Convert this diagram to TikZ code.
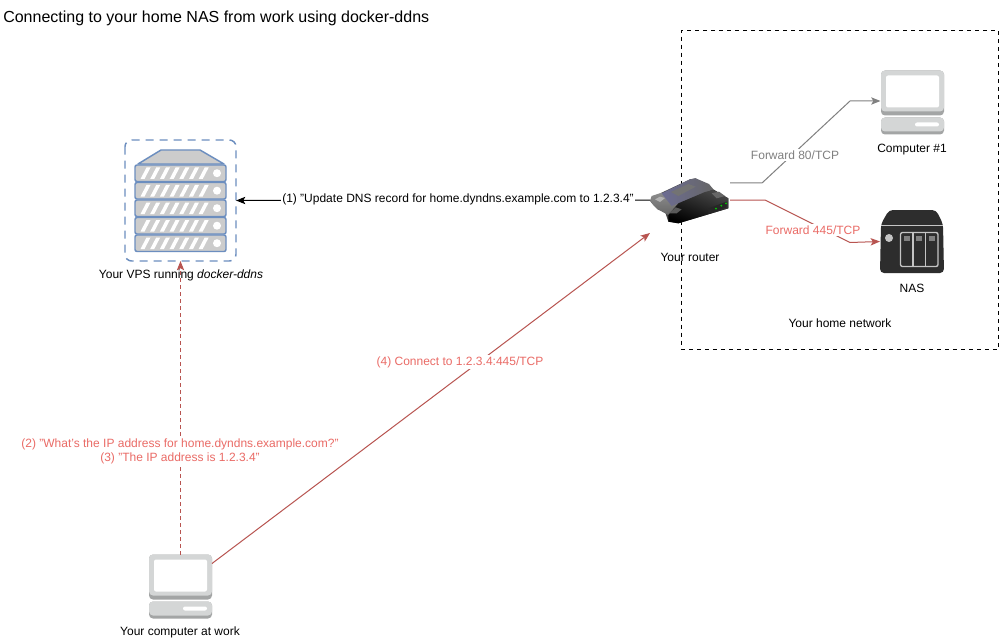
\documentclass[tikz,border=0pt]{standalone}
\usepackage{fontspec}
\setmainfont{Liberation Sans}
\usetikzlibrary{arrows.meta,calc}
\definecolor{dred}{HTML}{B85450}
\definecolor{lred}{HTML}{EA6B66}
\definecolor{dblue}{HTML}{6C8EBF}
\definecolor{fgrey}{HTML}{CCCCCC}
\definecolor{cgrey}{HTML}{D4D6D6}
\definecolor{cdark}{HTML}{A3A5A5}
\definecolor{lgrey}{HTML}{808080}
\definecolor{nasblack}{HTML}{2D2D2D}
\definecolor{naslight}{HTML}{C4C4C4}
\tikzset{
  x=0.75pt,y=-0.75pt,
  lab/.style={font=\fontsize{9}{10.5}\selectfont,inner sep=1pt,align=center},
  labw/.style={lab,fill=white},
  slot/.style={minimum width=#1*0.75pt,draw=none,inner sep=0pt,outer sep=0pt},
  tip/.style={-{Stealth[length=7pt,width=5.5pt,inset=1.6pt]}},
  conn/.style={tip,line width=0.75pt},
}
\newcommand{\computericon}[2]{%
  \begin{scope}[shift={(#1,#2)}]
    \fill[cdark,rounded corners=3pt] (0,0) rectangle (63,45);
    \fill[cgrey,rounded corners=3pt] (0,0) rectangle (63,41);
    \fill[white,rounded corners=1.5pt] (5,5) rectangle (58,37);
    \fill[cdark,rounded corners=3pt] (0,47) rectangle (63,64);
    \fill[cgrey,rounded corners=3pt] (0,47) rectangle (63,61);
    \fill[white,rounded corners=1.5pt] (34,52) rectangle (58,56);
  \end{scope}}
\begin{document}
\begin{tikzpicture}
\useasboundingbox (0,0) rectangle (999,638);
\fill[white] (0,0) rectangle (999,638);

% title
\node[anchor=west,inner sep=0pt,font=\fontsize{12}{14}\selectfont] (title) at (3,18.5) {Connecting to your home NAS from work using docker-ddns};

% home network box
\node[draw,dashed,line width=0.6pt,minimum width=238pt,minimum height=239.25pt,inner sep=0pt,anchor=north west] (home) at (680.5,30) {};

% anchor nodes of the icons
\node[slot=111,minimum height=90.75pt] (vps) at (180.5,200.5) {};
\node[slot=80,minimum height=49.5pt] (router) at (690,200) {};
\node[slot=63,minimum height=48pt] (comp) at (912,102.5) {};
\node[slot=64,minimum height=47.25pt] (nas) at (912,241.5) {};
\node[slot=63,minimum height=48pt] (work) at (180.5,586.5) {};

% labels beneath icons
\node[lab] (lvps) at (181,275.5) {Your VPS running \textit{docker-ddns}};
\node[lab] (lrouter) at (690,257) {Your router};
\node[lab] (lcomp) at (912,149.5) {Computer \#1};
\node[lab] (lnas) at (912,288) {NAS};
\node[lab] (lwork) at (180,632) {Your computer at work};
\node[lab] (lhome) at (840,323) {Your home network};

% VPS icon
\draw[dblue,line width=1.1pt,dash pattern=on 6pt off 4.5pt,rounded corners=5pt] (vps.north west) rectangle (vps.south east);
\filldraw[fill=fgrey,draw=dblue,line width=1.1pt,line join=round] (138,164) -- (161,150) -- (200,150) -- (224,164) -- cycle;
\foreach \yy in {165,182.5,200,217.5,235}{
  \begin{scope}[shift={(135,\yy)}]
    \filldraw[fill=fgrey,draw=dblue,line width=1.1pt,rounded corners=1.5pt] (0,0) rectangle (91,16.5);
    \foreach \xx in {0,...,6}{
      \fill[white] ({5.5+\xx*9.7},14) -- ({9.5+\xx*9.7},14) -- ({15.5+\xx*9.7},2.5) -- ({11.5+\xx*9.7},2.5) -- cycle;
    }
    \fill[white] (82,8.2) circle (3pt);
  \end{scope}
}

% computer icons
\computericon{149}{554.5}
\computericon{881}{70.5}

% NAS icon
\fill[nasblack,rounded corners=3pt] (881,224) -- (889,210) -- (936,210) -- (943,224) -- (944,273) -- (880,273) -- cycle;
\draw[naslight,line width=0.8pt] (881,225.5) -- (943,225.5);
\fill[naslight] (889,238) circle (3pt);
\draw[naslight,line width=1pt,rounded corners=1.5pt] (900.5,232.5) rectangle (938,266.5);
\foreach \xx in {913,925.5}{
  \draw[naslight,line width=0.9pt] (\xx,232.5) -- (\xx,266.5);
}
\foreach \xx in {903.5,916,928.5}{
  \fill[gray] (\xx,236) rectangle ++(6,5);
}

% router icon
\begin{scope}[shift={(645,170)},x=0.25pt,y=-0.25pt]
  % dark base under everything, closes the gaps
  \fill[black!75] (15,92) -- (50,68) -- (135,28) -- (152,25) -- (205,58) -- (250,85) -- (250,115) -- (100,160) -- (70,155) -- (60,125) -- (38,118) -- (25,105) -- cycle;
  % left grey lobe
  \shade[top color=gray!90!white,bottom color=black!60]
    (15,92) -- (20,78) -- (50,68) -- (75,72) -- (110,100) -- (85,130) -- (70,135) -- (38,118) -- (25,105) -- cycle;
  % top cover
  \shade[left color=gray!85!blue,right color=black!60]
    (50,70) -- (135,28) -- (152,25) -- (192,42) -- (205,58) -- (100,100) -- (80,108) -- cycle;
  \fill[black!55] (78,66) -- (130,42) -- (152,50) -- (100,78) -- cycle;
  \fill[gray!60] (30,88) -- (45,80) -- (60,84) -- (45,96) -- cycle;
  % black body
  \shade[top color=black!72,bottom color=black,shading angle=-20]
    (70,135) -- (100,100) -- (180,66) -- (205,60) -- (250,85) -- (250,115) -- (100,160) -- (70,155) -- cycle;
  \fill[black!65] (72,130) -- (92,112) -- (110,118) -- (95,130) -- cycle;
  \fill[black!60] (200,70) -- (222,65) -- (240,78) -- (215,85) -- cycle;
  \fill[black!85] (190,115) -- (245,95) -- (245,112) -- (190,130) -- cycle;
  \fill[green!80!black] (213,116) circle (3.2);
  \fill[green!80!black] (229,107) circle (3.2);
  \fill[green!80!black] (243,100) circle (3.2);
\end{scope}

% connectors
\draw[conn,black] (router.west) -- (vps.east);
\draw[conn,lgrey] ([yshift=12.75pt]router.east) -- ++(32,0) -- (850,101) -- (comp.west |- 0,101);
\draw[conn,dred] (router.east) -- ++(35,0) -- (850,242.5) -- (nas.west);
\draw[conn,dred] ([yshift=17.25pt]work.east) -- (router.south west);
\draw[conn,dred,dash pattern=on 3pt off 2.25pt] (work.north) -- (vps.south);

% connector labels
\node[labw] (l1) at (458,199) {(1) "Update DNS record for home.dyndns.example.com to 1.2.3.4"};
\node[labw,text=lgrey] (l80) at (795,155) {Forward 80/TCP};
\node[labw,text=lred] (l445) at (813,230) {Forward 445/TCP};
\node[labw,text=lred] (l4) at (460,362) {(4) Connect to 1.2.3.4:445/TCP};
\node[labw,text=lred] (l23) at (180,451) {(2) "What's the IP address for home.dyndns.example.com?"\\(3) "The IP address is 1.2.3.4"};
\end{tikzpicture}
\end{document}
